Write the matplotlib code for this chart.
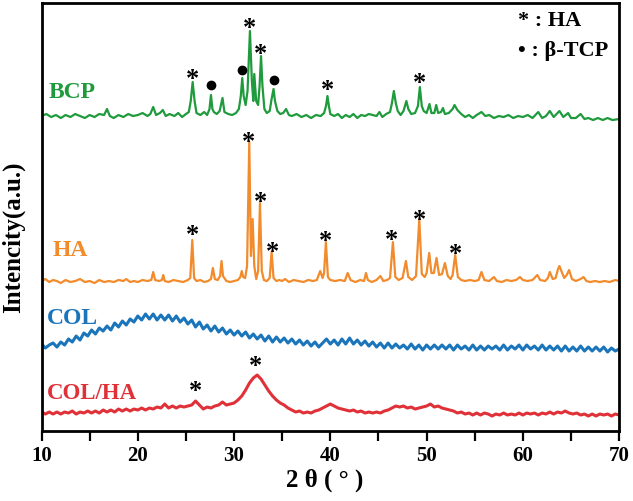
import numpy as np
import matplotlib
matplotlib.use('Agg')
import matplotlib.pyplot as plt

plt.rcParams['font.family'] = ['Liberation Serif', 'DejaVu Serif']
plt.rcParams['font.weight'] = 'bold'

# BCP pattern (2theta, intensity a.u.)
bcp_x = [10.0, 10.5, 11.0, 11.5, 12.0, 12.5, 13.0, 13.5, 14.0, 14.5, 15.0, 15.5, 16.0, 16.5, 16.8, 17.1,
         17.5, 18.0, 18.5, 19.0, 19.5, 20.0, 20.5, 21.0, 21.3, 21.6, 21.9, 22.3, 22.6, 22.9, 23.3, 23.8,
         24.2, 24.6, 25.0, 25.3, 25.5, 25.7, 25.9, 26.1, 26.5, 26.9, 27.2, 27.45, 27.6, 27.75, 27.9, 28.2,
         28.5, 28.8, 29.0, 29.4, 29.8, 30.2, 30.5, 30.7, 30.85, 31.0, 31.2, 31.4, 31.65, 31.85, 32.0, 32.1,
         32.3, 32.5, 32.65, 32.8, 32.95, 33.15, 33.4, 33.7, 33.9, 34.1, 34.25, 34.5, 34.8, 35.1, 35.4, 35.7,
         36.0, 36.5, 37.0, 37.5, 38.0, 38.5, 39.0, 39.35, 39.55, 39.7, 39.85, 40.0, 40.4, 40.8, 41.2, 41.6,
         42.0, 42.4, 42.8, 43.2, 43.6, 44.0, 44.4, 44.8, 45.1, 45.4, 45.8, 46.2, 46.4, 46.6, 46.8, 47.0,
         47.3, 47.6, 47.9, 48.1, 48.4, 48.8, 49.1, 49.3, 49.5, 49.7, 50.0, 50.3, 50.5, 50.8, 51.0, 51.2,
         51.5, 51.7, 51.9, 52.3, 52.7, 52.9, 53.2, 53.6, 54.0, 54.4, 54.8, 55.2, 55.7, 56.1, 56.5, 57.0,
         57.5, 58.0, 58.5, 59.0, 59.5, 60.0, 60.5, 61.0, 61.6, 62.0, 62.4, 62.8, 63.2, 63.5, 63.8, 64.2,
         64.7, 65.0, 65.5, 66.0, 66.4, 66.8, 67.3, 67.8, 68.3, 68.8, 69.3, 70.0]
bcp_y = [315, 317, 314, 316, 313, 316, 314, 317, 315, 313, 316, 314, 317, 316, 322, 315,
         313, 316, 314, 317, 315, 316, 318, 315, 317, 324, 316, 318, 321, 315, 317, 315,
         318, 314, 317, 319, 330, 349, 330, 318, 316, 319, 316, 322, 336, 322, 319, 317,
         320, 333, 319, 317, 316, 318, 322, 335, 353, 335, 326, 340, 400, 350, 330, 357,
         330, 326, 345, 375, 345, 322, 318, 320, 332, 342, 330, 320, 317, 318, 322, 316,
         315, 317, 314, 316, 313, 316, 315, 318, 325, 335, 325, 317, 315, 317, 313, 316,
         314, 317, 313, 316, 315, 317, 316, 315, 319, 314, 317, 319, 328, 340, 328, 320,
         316, 320, 330, 322, 317, 318, 325, 344, 325, 320, 318, 327, 318, 318, 326, 318,
         319, 323, 317, 318, 322, 326, 321, 317, 314, 316, 313, 316, 319, 315, 316, 313,
         315, 314, 316, 313, 315, 314, 316, 313, 319, 313, 315, 320, 314, 317, 320, 314,
         318, 313, 313, 317, 312, 313, 311, 313, 311, 313, 311, 312]

# HA pattern
ha_x = [10.0, 10.4, 10.8, 11.2, 11.6, 12.0, 12.5, 13.0, 13.5, 14.0, 14.5, 15.0, 15.5, 16.0, 16.5, 17.0,
        17.5, 18.0, 18.5, 18.8, 19.2, 19.6, 20.0, 20.5, 21.0, 21.4, 21.6, 21.8, 22.2, 22.5, 22.65, 22.8,
        23.2, 23.7, 24.2, 24.7, 25.2, 25.45, 25.66, 25.85, 26.1, 26.5, 26.9, 27.3, 27.6, 27.8, 28.0, 28.3,
        28.55, 28.7, 28.85, 29.2, 29.6, 30.0, 30.4, 30.65, 30.8, 30.95, 31.15, 31.35, 31.58, 31.75, 31.93, 32.1,
        32.3, 32.5, 32.69, 32.88, 33.1, 33.4, 33.7, 33.9, 34.1, 34.4, 34.7, 35.0, 35.3, 35.7, 36.2, 36.7,
        37.2, 37.7, 38.2, 38.6, 38.95, 39.2, 39.35, 39.54, 39.75, 40.0, 40.5, 41.0, 41.5, 41.8, 42.1, 42.6,
        43.1, 43.5, 43.7, 43.9, 44.3, 44.8, 45.2, 45.5, 45.9, 46.2, 46.5, 46.75, 47.1, 47.5, 47.85, 48.1,
        48.5, 48.9, 49.24, 49.5, 49.8, 50.0, 50.27, 50.5, 50.75, 51.03, 51.3, 51.6, 51.9, 52.2, 52.5, 52.7,
        52.97, 53.25, 53.6, 54.0, 54.5, 55.0, 55.4, 55.7, 56.0, 56.5, 57.0, 57.3, 57.8, 58.3, 58.8, 59.3,
        59.7, 60.0, 60.5, 61.0, 61.5, 61.8, 62.3, 62.6, 62.8, 63.1, 63.4, 63.65, 63.8, 64.0, 64.3, 64.55,
        64.8, 65.1, 65.5, 66.0, 66.3, 66.6, 67.0, 67.5, 68.0, 68.5, 69.0, 69.3, 69.6, 70.0]
ha_y = [150, 152, 149, 151, 150, 148, 151, 149, 150, 152, 149, 150, 148, 151, 149, 150,
        149, 151, 150, 152, 149, 150, 149, 151, 150, 151, 159, 151, 150, 151, 156, 150,
        149, 151, 150, 149, 151, 153, 191, 153, 150, 151, 149, 150, 152, 163, 152, 151,
        155, 170, 155, 150, 149, 150, 151, 154, 160, 154, 153, 165, 289, 175, 212, 165,
        152, 160, 228, 160, 151, 150, 153, 179, 153, 150, 151, 150, 152, 149, 151, 150,
        149, 151, 150, 151, 160, 153, 158, 189, 154, 151, 150, 151, 150, 158, 151, 149,
        151, 150, 158, 151, 149, 151, 155, 150, 151, 153, 189, 154, 151, 153, 170, 154,
        151, 155, 212, 157, 154, 158, 178, 158, 158, 173, 156, 157, 168, 155, 152, 156,
        176, 154, 151, 150, 151, 150, 151, 159, 151, 150, 154, 150, 149, 151, 150, 151,
        154, 151, 150, 151, 156, 151, 150, 153, 159, 152, 153, 162, 165, 160, 153, 156,
        161, 152, 150, 152, 154, 150, 149, 150, 149, 150, 149, 150, 151, 150]

# COL pattern, 0.4 deg steps from 10 to 70
col_y = [87, 83, 86, 88, 84, 89, 86, 92, 89, 95, 91, 98, 95, 101, 97, 103, 100, 105, 101, 108,
         104, 110, 106, 112, 109, 115, 111, 117, 112, 117, 111, 116, 111, 116, 110, 115, 109, 113, 107, 111,
         104, 109, 102, 106, 100, 105, 99, 103, 97, 101, 96, 100, 95, 99, 93, 97, 92, 96, 90, 95,
         89, 94, 89, 93, 88, 92, 87, 91, 86, 90, 85, 89, 84, 88, 92, 87, 91, 86, 92, 87,
         93, 87, 91, 86, 90, 85, 89, 84, 88, 83, 88, 83, 87, 83, 86, 82, 87, 82, 86, 81,
         86, 82, 86, 82, 86, 82, 86, 81, 86, 82, 85, 81, 86, 81, 85, 81, 85, 82, 85, 81,
         86, 81, 85, 82, 86, 81, 86, 82, 85, 81, 86, 81, 85, 81, 85, 80, 85, 80, 84, 80,
         85, 80, 84, 80, 84, 80, 84, 79, 83, 80, 82]

# COL/HA pattern, 0.4 deg steps from 10 to 70
colha_y = [19, 17, 19, 17, 19, 17, 19, 18, 20, 17, 19, 18, 20, 18, 20, 18, 21, 19, 21, 19,
           22, 20, 22, 20, 22, 21, 23, 21, 23, 22, 24, 23, 27, 23, 25, 23, 25, 24, 25, 26,
           30, 26, 22, 24, 23, 25, 26, 29, 26, 27, 28, 31, 35, 41, 48, 53, 56, 52, 46, 40,
           35, 31, 28, 26, 23, 21, 19, 20, 18, 19, 18, 20, 21, 23, 25, 27, 25, 23, 22, 21,
           20, 21, 19, 20, 18, 19, 18, 19, 18, 20, 21, 23, 25, 24, 25, 23, 24, 22, 23, 24,
           25, 27, 24, 25, 23, 22, 21, 20, 18, 19, 17, 18, 16, 18, 16, 18, 17, 15, 17, 16,
           18, 16, 17, 16, 18, 16, 18, 17, 18, 16, 18, 17, 19, 17, 19, 18, 20, 18, 17, 18,
           16, 17, 15, 17, 15, 17, 16, 17, 15, 17, 16]

# peak markers
bcp_star_x = [25.7, 31.65, 32.8, 39.7, 49.3]
bcp_star_y = [357, 408, 382, 346, 353]
bcp_dot_x = [27.6, 30.85, 34.1]
bcp_dot_y = [346, 361, 351]
ha_star_x = [25.66, 31.5, 32.75, 33.95, 39.54, 46.4, 49.24, 52.97]
ha_star_y = [201, 294, 234, 184, 195, 196, 216, 182]
colha_star_x = [26.0, 32.2]
colha_star_y = [45, 70]

labels = ['BCP', 'HA', 'COL', 'COL/HA']
colors = ['#1f9a3c', '#f28b2c', '#1a75bb', '#e03038']

col_x = np.linspace(10, 70, len(col_y))
colha_x = np.linspace(10, 70, len(colha_y))

fig = plt.figure(figsize=(6.33, 5.02), dpi=100)
ax = fig.add_axes([0.0656, 0.1394, 0.9125, 0.8526])

ax.plot(bcp_x, bcp_y, color=colors[0], lw=1.6)
ax.plot(ha_x, ha_y, color=colors[1], lw=1.6)
ax.plot(col_x, col_y, color=colors[2], lw=2.2)
ax.plot(colha_x, colha_y, color=colors[3], lw=2.2)

# series labels
ax.text(10.7, 340, labels[0], color=colors[0], fontsize=17, fontweight='bold', va='center')
ax.text(11.1, 182, labels[1], color=colors[1], fontsize=17, fontweight='bold', va='center')
ax.text(10.6, 114, labels[2], color=colors[2], fontsize=17, fontweight='bold', va='center')
ax.text(10.6, 39, labels[3], color=colors[3], fontsize=16.5, fontweight='bold', va='center')

for sx, sy in zip(bcp_star_x + ha_star_x + colha_star_x, bcp_star_y + ha_star_y + colha_star_y):
    ax.text(sx, sy - 4, '*', fontsize=19, fontweight='bold', ha='center', va='center')
ax.plot(bcp_dot_x, bcp_dot_y, 'o', color='k', ms=6)

ax.text(59.5, 411, '* : HA', fontsize=16, fontweight='bold', ha='left', va='center')
ax.text(59.5, 381, '\u2022 : \u03b2-TCP', fontsize=16, fontweight='bold', ha='left', va='center')

ax.set_xlim(10, 70)
ax.set_ylim(0, 428)
ax.set_yticks([])
ax.set_xticks([10, 20, 30, 40, 50, 60, 70])
ax.set_xticks([15, 25, 35, 45, 55, 65], minor=True)
ax.tick_params(axis='x', which='both', direction='out', length=7, width=1.6, labelsize=15, pad=3)
for lab in ax.get_xticklabels():
    lab.set_fontweight('bold')
for sp in ax.spines.values():
    sp.set_linewidth(2)

ax.set_xlabel('2 \u03b8 ( \u00b0 )', fontsize=18, fontweight='bold')
ax.xaxis.set_label_coords(0.49, -0.085)
ax.set_ylabel('Intencity(a.u.)', fontsize=18, fontweight='bold')
ax.yaxis.set_label_coords(-0.028, 0.454)

fig.savefig('out.png', dpi=100)
